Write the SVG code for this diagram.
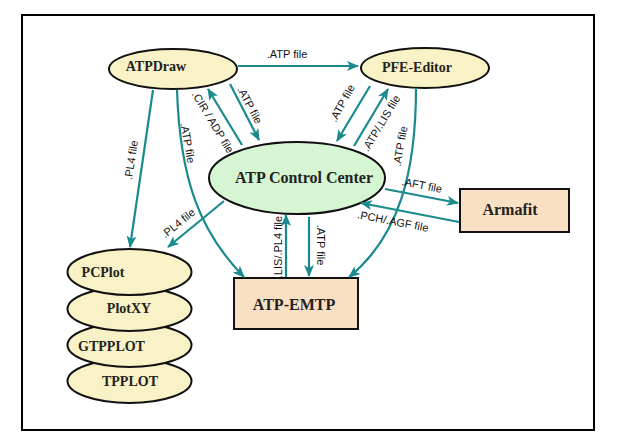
<svg xmlns="http://www.w3.org/2000/svg" width="620" height="444" viewBox="0 0 620 444">
<style>
.ey{fill:#f8f2c6;stroke:#111;stroke-width:2}
.eg{fill:#d6f5d2;stroke:#111;stroke-width:2}
.bx{fill:#f9dfc3;stroke:#111;stroke-width:2}
.nt{font-family:"Liberation Serif",serif;font-weight:bold;fill:#222}
.c{fill:none;stroke:#1a8a8c;stroke-width:2.2;marker-end:url(#ah)}
.lb{font-family:"Liberation Sans",Arial,sans-serif;font-size:11px;fill:#111;text-anchor:middle}
</style>
<defs>
<marker id="ah" viewBox="0 0 12 10" refX="11" refY="5" markerWidth="12" markerHeight="10" markerUnits="userSpaceOnUse" orient="auto">
<path d="M0,0 L12,5 L0,10 L3,5 Z" fill="#1a8a8c"/>
</marker>
</defs>
<rect x="22" y="15" width="572" height="415" fill="#fff" stroke="#000" stroke-width="2"/>

<g id="tpplot"><ellipse class="ey" cx="129.5" cy="381" rx="62" ry="22"/><text class="nt" x="130" y="386" font-size="14" text-anchor="middle">TPPLOT</text></g>
<g id="gtpplot"><ellipse class="ey" cx="129.5" cy="345" rx="62" ry="22"/><text class="nt" x="111.5" y="351" font-size="14" text-anchor="middle">GTPPLOT</text></g>
<g id="plotxy"><ellipse class="ey" cx="129.5" cy="309" rx="62" ry="22"/><text class="nt" x="129" y="313" font-size="14" text-anchor="middle">PlotXY</text></g>
<g id="pcplot"><ellipse class="ey" cx="129.5" cy="272" rx="62" ry="23"/><text class="nt" x="103" y="277" font-size="14" text-anchor="middle">PCPlot</text></g>

<g id="atpdraw"><ellipse class="ey" cx="173" cy="69" rx="64" ry="20"/><text class="nt" x="156" y="71" font-size="14" text-anchor="middle">ATPDraw</text></g>
<g id="pfe"><ellipse class="ey" cx="425" cy="68" rx="64" ry="20"/><text class="nt" x="417" y="72" font-size="14" text-anchor="middle">PFE-Editor</text></g>
<g id="acc"><ellipse class="eg" cx="297" cy="178" rx="88" ry="36"/><text class="nt" x="304" y="183" font-size="16" text-anchor="middle">ATP Control Center</text></g>
<g id="armafit"><rect class="bx" x="460" y="189" width="109" height="43"/><text class="nt" x="510" y="215" font-size="16" text-anchor="middle">Armafit</text></g>
<g id="emtp"><rect class="bx" x="234" y="278" width="124" height="51"/><text class="nt" x="294" y="310" font-size="16" text-anchor="middle">ATP-EMTP</text></g>

<g id="connectors">
<path class="c" d="M238,66 L358,66"/>
<path class="c" d="M230,84 L259,140"/>
<path class="c" d="M242,145 L208,89"/>
<path class="c" d="M153,90 L130,247"/>
<path class="c" d="M177,90 C180,180 200,232 244,277"/>
<path class="c" d="M224,201 L168,247"/>
<path class="c" d="M286,277 L286,215"/>
<path class="c" d="M309,217 L309,276"/>
<path class="c" d="M370,86 L337,141"/>
<path class="c" d="M354,146 L388,89"/>
<path class="c" d="M416,88 C416,170 400,236 349,277"/>
<path class="c" d="M385,189 L458,203"/>
<path class="c" d="M459,222 L361,203"/>

<text class="lb" transform="translate(287,54)" y="4">.ATP file</text>
<text class="lb" transform="translate(250,105) rotate(62)" y="4">.ATP file</text>
<text class="lb" transform="translate(213,122) rotate(59)" y="4">.CIR / ADP file</text>
<text class="lb" transform="translate(131,160) rotate(-81)" y="4">.PL4 file</text>
<text class="lb" transform="translate(188,143) rotate(80)" y="4">.ATP file</text>
<text class="lb" transform="translate(178,223) rotate(-39)" y="4">.PL4 file</text>
<text class="lb" transform="translate(278,247) rotate(-90)" y="4">.LIS/.PL4 file</text>
<text class="lb" transform="translate(321,245) rotate(90)" y="4">.ATP file</text>
<text class="lb" transform="translate(342,103) rotate(-61)" y="4">.ATP file</text>
<text class="lb" transform="translate(381,123) rotate(-59)" y="4">.ATP/.LIS file</text>
<text class="lb" transform="translate(400,146) rotate(-80)" y="4">.ATP file</text>
<text class="lb" transform="translate(422,185) rotate(11)" y="4">.AFT file</text>
<text class="lb" transform="translate(393,221) rotate(11)" y="4">.PCH/.AGF file</text>
</g>
</svg>
